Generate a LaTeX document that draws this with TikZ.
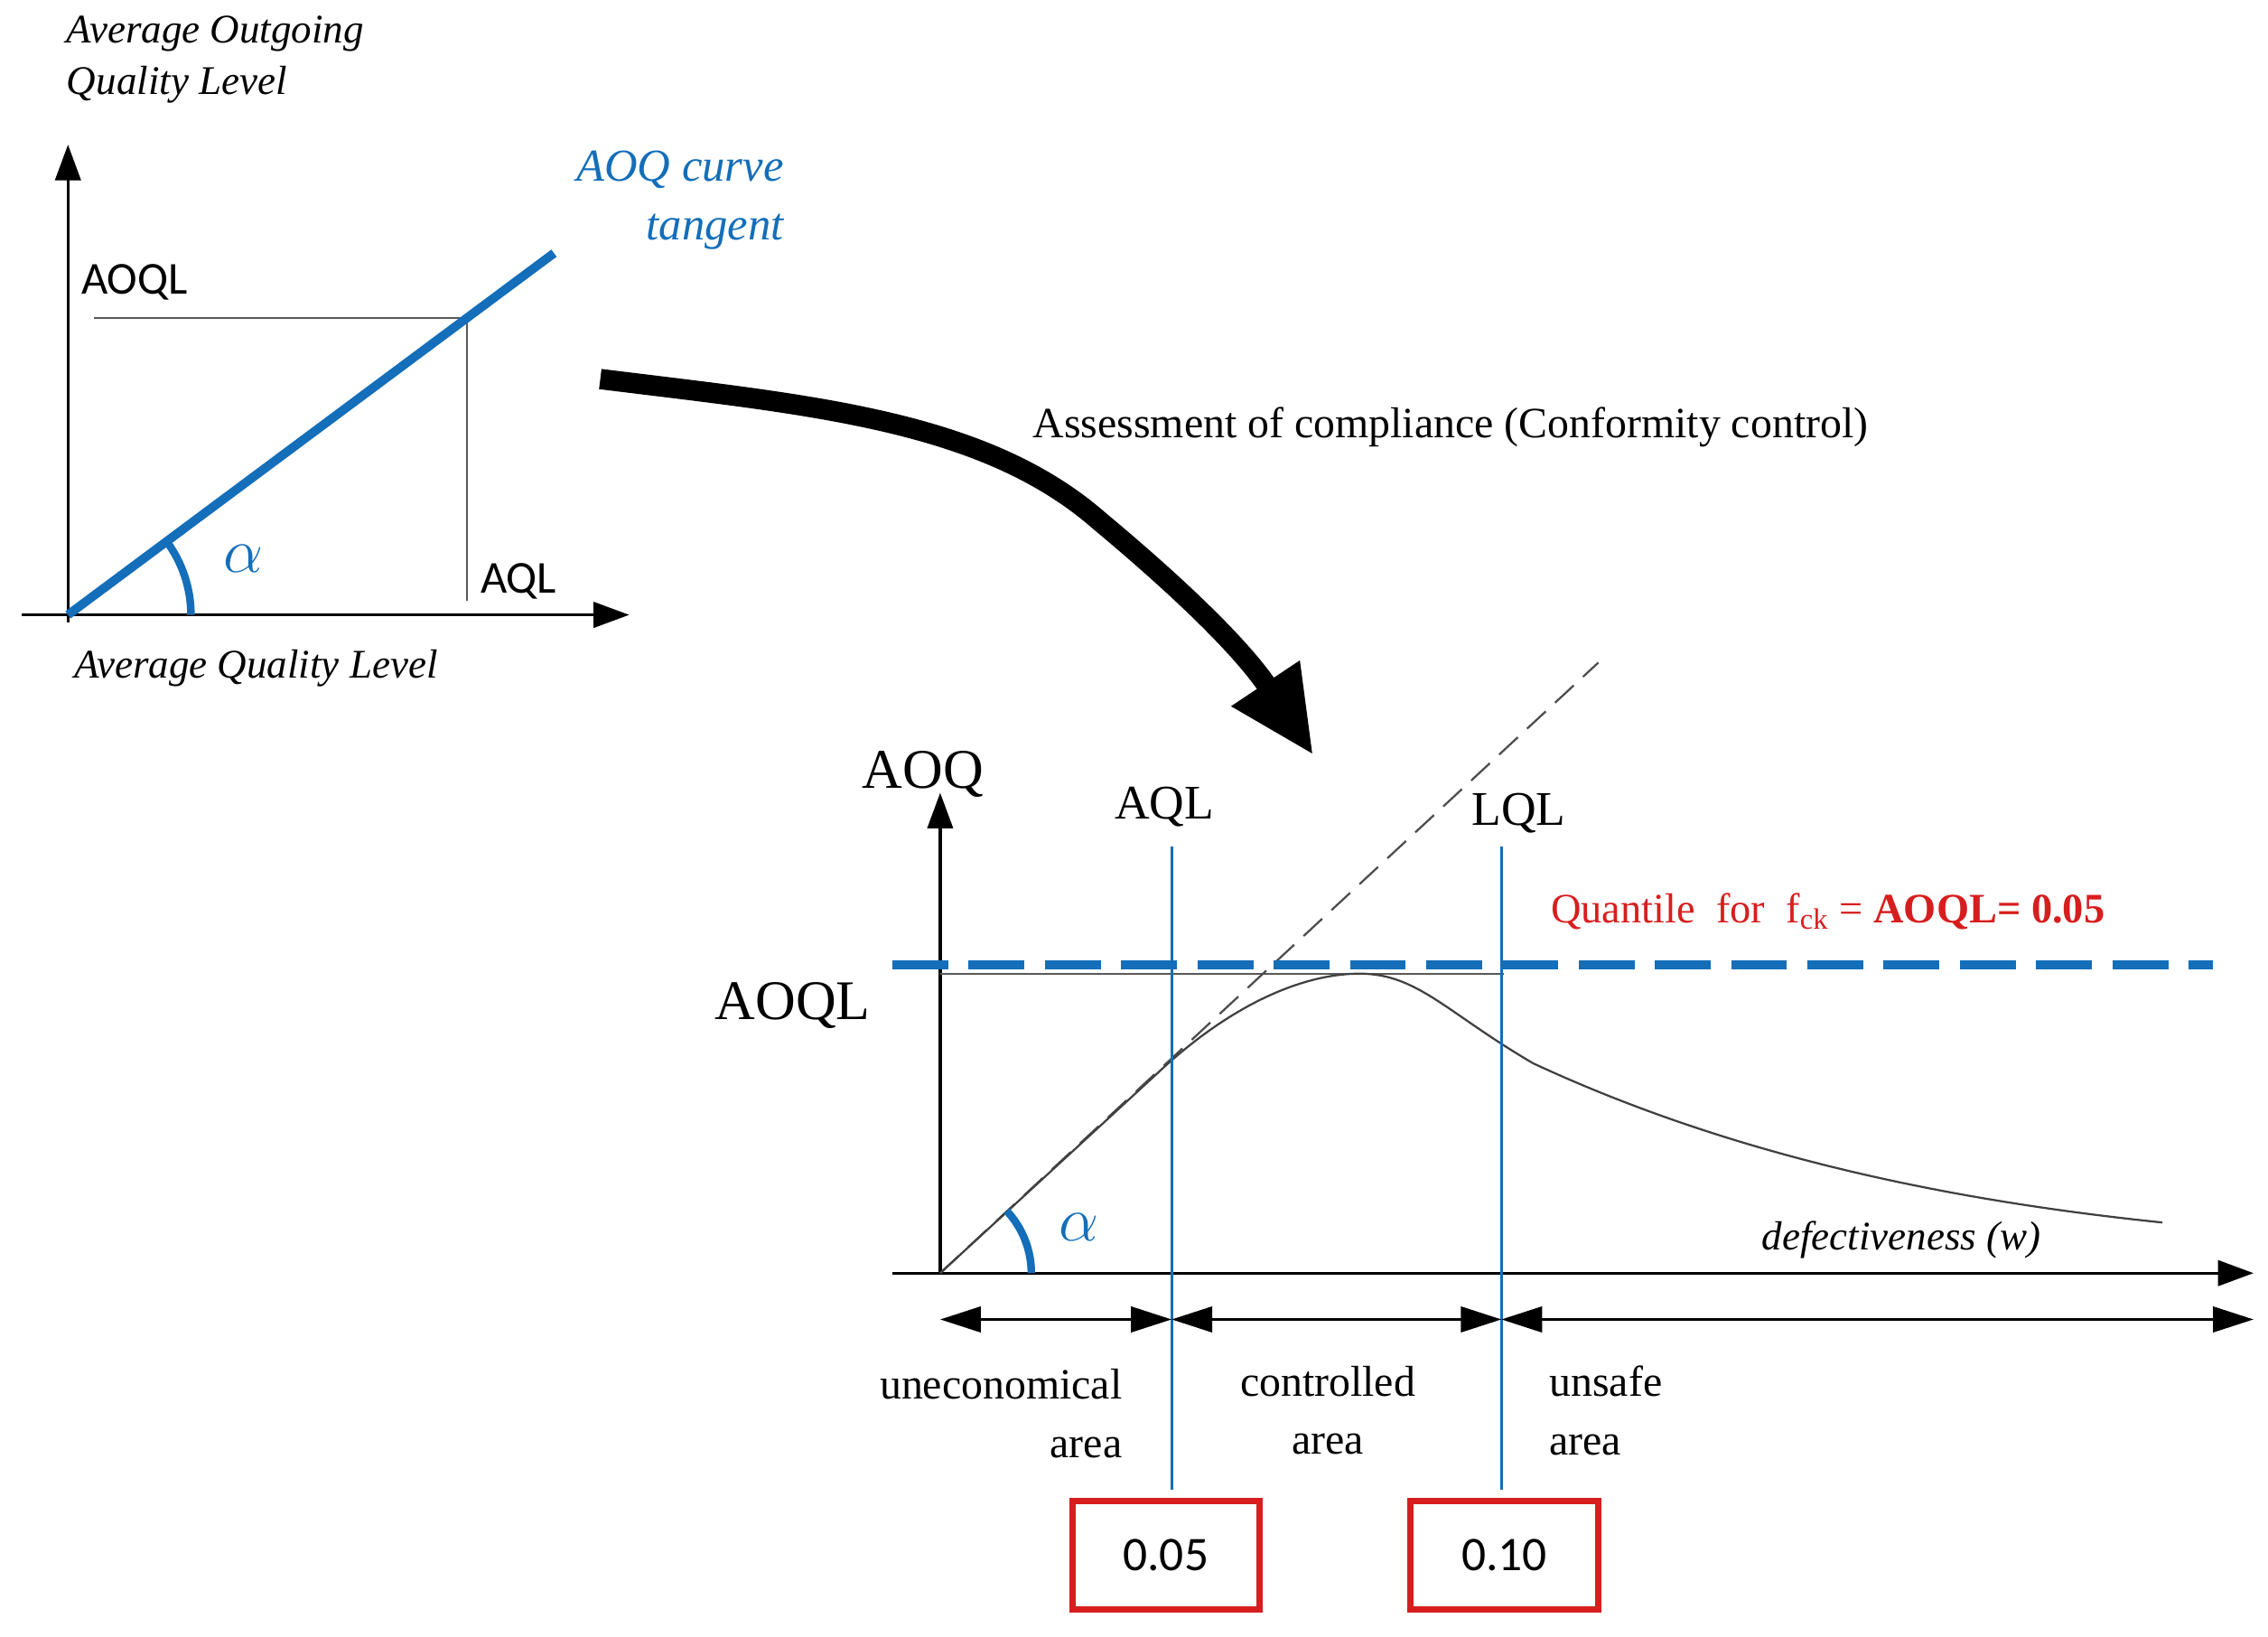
\documentclass[tikz,border=0pt]{standalone}
\usepackage{fontspec}
\setmainfont{Liberation Serif}
\newfontfamily\sfa{Carlito}
\usetikzlibrary{arrows.meta}
\definecolor{bl}{RGB}{20,110,185}
\definecolor{rd}{RGB}{215,30,30}
\begin{document}
\begin{tikzpicture}[x=0.02cm,y=-0.02cm,
 ax/.style={line width=1.2pt,-{Triangle[length=14pt,width=10pt]}},
 it/.style={font=\fontsize{16}{20}\selectfont\itshape},
 sf/.style={font=\sfa\fontsize{18}{20}\selectfont},
 se/.style={font=\fontsize{16}{20}\selectfont},
 dbl/.style={line width=1.2pt,{Triangle[length=16pt,width=10pt]}-{Triangle[length=16pt,width=10pt]}},
 box/.style={draw=rd,line width=2.5pt,minimum width=3.7cm*0.7,minimum height=1.5cm,font=\sfa\fontsize{19}{20}\selectfont}]
\useasboundingbox (0,0) rectangle (1568,1131);
% top-left chart
\coordinate (o1) at (47,425);
\draw[ax] (15,425) -- (435,425);
\draw[ax] (47,430) -- (47,100);
\draw[gray!70!black,line width=0.8pt] (65,220) -- (323,220) -- (323,415);
\draw[bl,line width=3.5pt] (o1) -- (383,175);
\draw[bl,line width=3pt] (132,425) arc (0:-37:85);
\node[sf,anchor=west] (aoql1) at (50,195) {AOQL};
\node[sf,anchor=west] (aql1) at (326,402) {AQL};
\node[bl,font=\fontsize{38}{40}\selectfont\itshape] (al1) at (168,386) {$\alpha$};
\node[it,align=left,anchor=north west] (aoqlt) at (40,5) {Average Outgoing\\ Quality Level};
\node[it,bl,align=right,anchor=north east,font=\fontsize{18}{23}\selectfont\itshape] (tang) at (548,98) {AOQ curve\\ tangent};
\node[it,anchor=west] (aqlt) at (45,462) {Average Quality Level};
% big arrow
\draw[line width=8pt,-{Triangle[length=34pt,width=30pt]}] (415,262) .. controls (560,280) and (680,290) .. (760,360) .. controls (820,410) and (860,450) .. (908,522);
\node[se,anchor=west,font=\fontsize{17}{20}\selectfont] (ass) at (708,295) {Assessment of compliance (Conformity control)};
% bottom chart
\coordinate (o2) at (650,880);
\draw[ax] (617,880) -- (1558,880);
\draw[ax] (650,880) -- (650,548);
\node[font=\fontsize{22}{24}\selectfont] (aoq) at (638,535) {AOQ};
\node[font=\fontsize{22}{24}\selectfont] (aoql2) at (548,695) {AOQL};
\draw[gray!70!black,line width=0.8pt] (650,673) -- (1040,673);
\draw[black!70,dashed,line width=0.8pt,dash pattern=on 10pt off 5pt] (o2) -- (1105,458);
\draw[black!75,line width=0.8pt] (o2) -- (800,742) .. controls (850,695) and (900,673) .. (940,673) .. controls (980,673) and (1000,700) .. (1060,735) .. controls (1200,800) and (1350,830) .. (1495,845);
\draw[bl,line width=3.5pt,dash pattern=on 22pt off 8pt] (617,667) -- (1530,667);
\draw[bl,line width=1pt] (810,585) -- (810,1030);
\draw[bl,line width=1pt] (1038,585) -- (1038,1030);
\draw[bl,line width=3pt] (713,880) arc (0:-43:63);
\node[bl,font=\fontsize{38}{40}\selectfont\itshape] (al2) at (746,848) {$\alpha$};
\node[se,font=\fontsize{19}{22}\selectfont] (aql2) at (805,558) {AQL};
\node[se,font=\fontsize{19}{22}\selectfont] (lql) at (1050,562) {LQL};
\node[rd,anchor=west,font=\fontsize{16.5}{18}\selectfont] (q) at (1066,630) {Quantile\ \ for\ \ f\textsubscript{ck} = \textbf{AOQL= 0.05}};
\node[it,anchor=east] (def) at (1417,857) {defectiveness (w)};
\draw[dbl] (650,912) -- (810,912);
\draw[dbl] (810,912) -- (1038,912);
\draw[dbl] (1038,912) -- (1558,912);
\node[se,align=right,anchor=north east,font=\fontsize{17}{23}\selectfont] (un) at (782,940) {uneconomical\\ area};
\node[se,align=center,anchor=north,font=\fontsize{17}{23}\selectfont] (co) at (918,938) {controlled\\ area};
\node[se,align=left,anchor=north west,font=\fontsize{17}{23}\selectfont] (us) at (1065,938) {unsafe\\ area};
\node[box] (b1) at (806,1075) {0.05};
\node[box] (b2) at (1040,1075) {0.10};
\end{tikzpicture}
\end{document}
